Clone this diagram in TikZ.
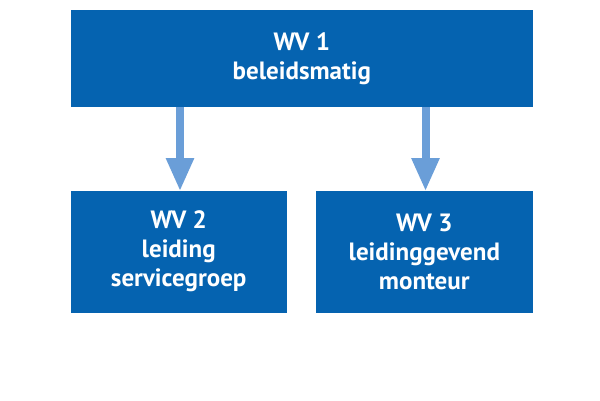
\documentclass[tikz,border=0pt]{standalone}
\usepackage{fontspec}
\setmainfont{PT Sans}
\usetikzlibrary{arrows.meta}
\definecolor{boxblue}{RGB}{5,99,176}
\definecolor{arrblue}{RGB}{106,158,216}
\begin{document}
\begin{tikzpicture}[x=1pt,y=-1pt,
  wvbox/.style={fill=boxblue,draw=none,inner sep=0pt,text=white,align=center,
    font=\fontsize{25}{29}\selectfont\bfseries},
  arr/.style={draw=arrblue,line width=8pt,-{Triangle[width=26pt,length=33pt]}}]
\useasboundingbox (0,0) rectangle (600,400);
\node[wvbox,minimum width=462pt,minimum height=97pt] (top) at (301.8,58.5) {WV 1\\beleidsmatig};
\node[wvbox,minimum width=216pt,minimum height=122pt] (left) at (178.7,251.7) {WV 2\\leiding\\servicegroep};
\node[wvbox,minimum width=217pt,minimum height=122pt] (right) at (424.3,251.7) {WV 3\\leidinggevend\\monteur};
\draw[arr] ([xshift=1.3pt]top.south -| left.north) -- ([xshift=1.3pt,yshift=-0.7pt]left.north);
\draw[arr] ([xshift=1.2pt]top.south -| right.north) -- ([xshift=1.2pt,yshift=-0.7pt]right.north);
\end{tikzpicture}
\end{document}
